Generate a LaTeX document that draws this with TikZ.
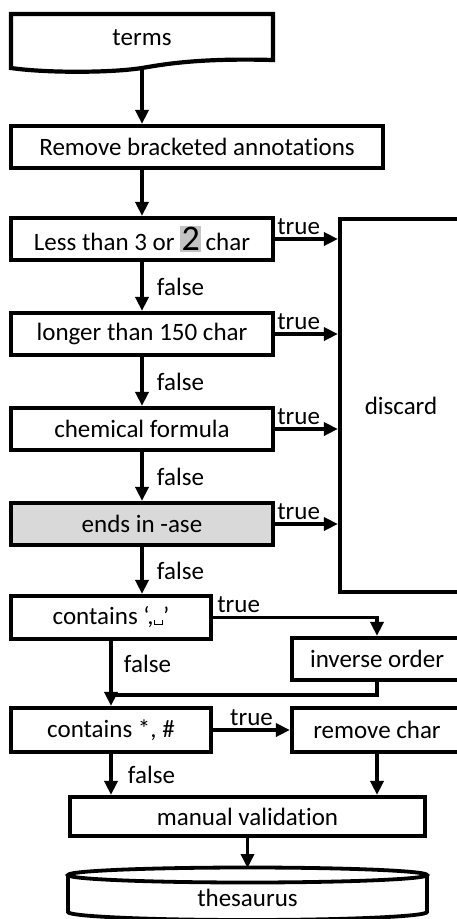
\documentclass[tikz,border=0pt]{standalone}
\usepackage{fontspec}
\setmainfont[Ligatures=NoCommon]{Carlito}
\usetikzlibrary{arrows.meta,calc}
\definecolor{hl}{HTML}{C4C4C4}
\definecolor{endsfill}{HTML}{D9D9D9}
\newcommand\myvspace{\hbox{\vrule width 1pt height 4.5pt\vrule width 7.5pt height 1pt\vrule width 1pt height 4.5pt}}
\begin{document}
\begin{tikzpicture}[x=1pt,y=-1pt,
  every node/.style={font=\fontsize{25}{29}\selectfont},
  box/.style={draw,line width=4.2pt,rectangle,minimum height=42pt,inner sep=0pt},
  arr/.style={line width=3.8pt,-{Triangle[length=14pt,width=13pt]}},
  ln/.style={line width=3.8pt},
  lbl/.style={inner sep=1pt}]
\useasboundingbox (0,0) rectangle (457,919);
\clip (0,0) rectangle (457,919);

% terms (document shape)
\draw[line width=4.2pt,line join=miter] (11,14) -- (273,14) -- (273,60)
  .. controls (200,58) and (165,64) .. (142,68)
  .. controls (110,73) and (45,73) .. (11,68) -- cycle;
\node (terms) at (142,38) {terms};
\coordinate (termsbot) at (142,68);

\node[box,minimum width=372pt] (remove) at (197,147) {Remove bracketed annotations};
\node[box,minimum width=262pt] (less) at (142,239)
  {Less than 3 or {\setlength{\fboxsep}{1.5pt}\colorbox{hl}{\fontsize{36}{36}\selectfont 2}}\,char};
\node[box,minimum width=262pt] (longer) at (142,334) {longer than 150 char};
\node[box,minimum width=262pt] (chem) at (142,429) {chemical formula};
\node[box,minimum width=262pt,fill=endsfill] (ends) at (142,524) {ends in -ase};
\node[box,minimum width=122pt,minimum height=373pt] (discard) at (401,405.5) {discard};

\node[box,minimum width=200pt,minimum height=43pt] (comma) at (111,617.5) {contains ‘,\myvspace’};
\node[box,minimum width=170pt] (inverse) at (377,659) {inverse order};
\node[box,minimum width=200pt,minimum height=44pt] (star) at (111,730) {contains *, \#};
\node[box,minimum width=170pt,minimum height=44pt] (rchar) at (377,730) {remove char};
\node[box,minimum width=355pt,minimum height=39pt] (manual) at (247.5,816.5) {manual validation};

% thesaurus cylinder
\draw[line width=3.8pt,fill=white] (68,875) -- (68,912) arc[start angle=180,end angle=360,x radius=179.5pt,y radius=8pt] -- (427,875);
\draw[line width=3.8pt] (247.5,875) ellipse [x radius=179.5pt,y radius=7.5pt];
\node (thes) at (247.5,898) {thesaurus};
\coordinate (thestop) at (247.5,868);

% main flow
\draw[arr] (termsbot) -- (remove.north -| termsbot);
\draw[arr] (remove.south -| less.north) -- (less.north);
\draw[arr] (less.south) -- node[lbl,right=12pt]{false} (longer.north);
\draw[arr] (longer.south) -- node[lbl,right=12pt]{false} (chem.north);
\draw[arr] (chem.south) -- node[lbl,right=12pt]{false} (ends.north);
\draw[arr] (ends.south) -- node[lbl,right=12pt]{false} (ends.south |- comma.north);

% true -> discard
\foreach \n in {less,longer,chem,ends}{
  \draw[arr] (\n.east) -- (\n.east -| discard.west);
  \node[lbl,anchor=south west] at ($(\n.east)+(1,-3)$) {true};
}

% comma branch
\draw[arr] (comma.east) -| (inverse.north);
\node[lbl,anchor=south west] at ($(comma.east)+(3,-4)$) {true};
\draw[arr] (comma.south) -- node[lbl,right=10pt,pos=0.35]{false} (star.north);
\coordinate (merge) at (111,695);
\draw[ln] (inverse.south) |- (merge);

% star branch
\draw[arr] (star.east) -- node[lbl,above=1pt]{true} (rchar.west);
\draw[arr] (star.south) -- node[lbl,right=14pt]{false} (star.south |- manual.north);
\draw[arr] (rchar.south) -- (rchar.south |- manual.north);

\draw[arr] (manual.south) -- (thestop);
\end{tikzpicture}
\end{document}
